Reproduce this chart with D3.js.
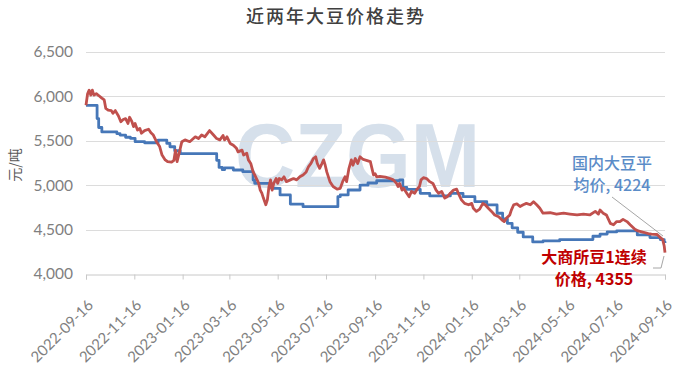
<!DOCTYPE html>
<html><head><meta charset="utf-8">
<script src="https://cdn.jsdelivr.net/npm/d3@7"></script>
<style>html,body{margin:0;padding:0;background:#fff;} svg{display:block}</style>
</head><body><svg id="chart" width="678" height="375"></svg>
<script>
// ---- data ----
const chartTitle = "近两年大豆价格走势";
const yAxisTitle = "元/吨";
const startDate = "2022-09-16";
const endDate = "2024-09-16";
const xTickLabels = ["2022-09-16","2022-11-16","2023-01-16","2023-03-16","2023-05-16","2023-07-16",
  "2023-09-16","2023-11-16","2024-01-16","2024-03-16","2024-05-16","2024-07-16","2024-09-16"];
const yTickValues = [4000, 4500, 5000, 5500, 6000, 6500];
// [days since startDate, price]
const domesticAvg = [[0,5900],[14,5750],[16,5650],[20,5600],[39,5580],[43,5565],[50,5540],[56,5528],[62,5490],[74,5478],
  [91,5508],[102,5470],[106,5433],[112,5388],[119,5355],[165,5280],[168,5200],[172,5175],[175,5195],[186,5171],
  [198,5152],[211,5058],[213,5021],[234,4965],[245,4890],[258,4788],[274,4758],[318,4871],[321,4890],[331,4946],
  [346,5000],[356,5025],[367,5050],[396,5060],[400,4976],[405,4954],[422,4909],[434,4879],[460,4909],[476,4871],
  [491,4815],[506,4778],[519,4684],[526,4620],[532,4571],[538,4520],[545,4470],[552,4418],[564,4361],[577,4373],
  [598,4388],[640,4425],[649,4450],[658,4474],[670,4485],[696,4440],[712,4410],[725,4388],[730,4360],[731,4350]];
const dceSoy1 = [[0,5900],[2,6030],[4,6070],[6,6015],[8,6070],[10,6015],[13,6030],[16,6010],[20,5980],[23,5960],
  [25,5865],[28,5845],[32,5840],[34,5810],[37,5840],[41,5780],[44,5715],[47,5740],[50,5750],[53,5695],
  [55,5765],[58,5715],[60,5660],[62,5695],[65,5620],[68,5640],[70,5585],[74,5615],[79,5630],[82,5590],
  [85,5565],[89,5490],[93,5435],[96,5340],[100,5285],[103,5265],[108,5260],[111,5280],[113,5395],[115,5265],
  [118,5375],[121,5490],[125,5510],[131,5490],[138,5545],[142,5525],[146,5565],[150,5545],[156,5615],[161,5565],
  [165,5525],[169,5510],[173,5560],[175,5510],[178,5545],[182,5470],[186,5450],[190,5415],[192,5375],[197,5395],
  [199,5340],[203,5360],[205,5285],[208,5245],[211,5150],[213,5115],[216,5060],[218,5020],[220,4945],[222,4910],
  [224,4855],[227,4780],[229,4835],[231,4985],[233,5060],[235,4945],[237,5020],[240,5075],[242,5020],[244,5075],
  [247,5060],[250,5095],[253,5040],[258,5060],[262,5075],[266,5060],[270,5095],[274,5115],[278,5150],[281,5210],
  [284,5245],[287,5300],[290,5320],[292,5245],[295,5190],[298,5245],[300,5285],[302,5225],[304,5150],[308,5040],
  [312,4985],[317,4955],[321,4965],[324,5040],[327,5095],[329,5040],[332,5190],[335,5285],[337,5225],[340,5300],
  [343,5245],[346,5320],[350,5290],[354,5280],[359,5265],[361,5190],[363,5115],[365,5130],[367,5095],[371,5100],
  [378,5090],[384,5075],[388,5060],[392,5020],[394,4985],[396,5020],[399,4945],[401,4965],[405,4910],[408,4870],
  [411,4930],[415,4910],[418,4955],[421,4985],[423,5060],[426,5085],[430,5075],[434,5040],[438,5020],[442,4945],
  [445,4910],[449,4930],[453,4855],[456,4870],[460,4910],[464,4945],[468,4955],[471,4890],[474,4835],[478,4795],
  [483,4780],[487,4795],[489,4740],[493,4705],[497,4730],[501,4795],[504,4780],[508,4740],[512,4705],[516,4665],
  [521,4645],[525,4610],[528,4590],[531,4630],[535,4665],[537,4720],[540,4780],[544,4790],[548,4760],[552,4780],
  [556,4795],[561,4780],[565,4815],[569,4780],[573,4740],[577,4685],[586,4690],[594,4675],[603,4685],[611,4675],
  [620,4665],[628,4675],[636,4665],[643,4705],[647,4675],[649,4720],[653,4685],[657,4665],[662,4570],[666,4555],
  [670,4590],[674,4590],[678,4615],[683,4590],[687,4555],[693,4505],[697,4485],[704,4470],[710,4455],[714,4450],
  [721,4445],[725,4410],[728,4390],[730,4315],[731,4240]];
const domesticLabel = ["国内大豆平", "均价, 4224"];
const dceLabel = ["大商所豆1连续", "价格, 4355"];
const watermarkText = "CZGM";

// ---- drawing ----
const svg = d3.select("#chart");
const parse = d3.timeParse("%Y-%m-%d");
const t0 = parse(startDate);
const x = d3.scaleTime().domain([t0, parse(endDate)]).range([86, 665]);
const y = d3.scaleLinear().domain([4000, 6500]).range([274, 52]);
const toDate = d => d3.timeDay.offset(t0, d);

const latin = "Lato, 'Liberation Sans', Arial, sans-serif";
const cjk = "'Noto Sans CJK SC', 'Noto Sans', sans-serif";

// watermark
svg.append("text").attr("x", 235).attr("y", 187)
  .attr("font-family", "'Liberation Sans', Arial, sans-serif").attr("font-weight", "bold")
  .attr("font-size", 91).attr("textLength", 245).attr("lengthAdjust", "spacingAndGlyphs")
  .attr("fill", "#d6e0eb").text(watermarkText);

// grid
svg.append("g").selectAll("line").data(yTickValues.filter(v => v > 4000)).join("line")
  .attr("x1", 86).attr("x2", 665).attr("y1", d => Math.round(y(d)) + 0.5).attr("y2", d => Math.round(y(d)) + 0.5)
  .attr("stroke", "#dcdcdc").attr("stroke-width", 1);

// y axis labels
const yAxis = svg.append("g").attr("transform", "translate(86,0)")
  .call(d3.axisLeft(y).tickValues(yTickValues).tickSize(0).tickPadding(13).tickFormat(d3.format(",")));
yAxis.select(".domain").remove();
yAxis.selectAll("text").attr("font-family", latin).attr("font-size", 15.5).attr("fill", "#7f7f7f");

// x axis
const xAxis = svg.append("g").attr("transform", "translate(0,274.5)")
  .call(d3.axisBottom(x).tickValues(xTickLabels.map(parse)).tickSize(5).tickFormat(d3.timeFormat("%Y-%m-%d")));
xAxis.select(".domain").attr("stroke", "#c8c8c8");
xAxis.selectAll(".tick line").attr("stroke", "#c8c8c8");
xAxis.selectAll("text").attr("font-family", latin).attr("font-size", 15).attr("fill", "#808080")
  .attr("text-anchor", "end").attr("x", 0).attr("y", 0).attr("dy", "0.35em")
  .attr("transform", "translate(4,28) rotate(-45)");

// lines
svg.append("path").datum(domesticAvg).attr("fill", "none").attr("stroke", "#4677b8")
  .attr("stroke-width", 2.8).attr("stroke-linejoin", "round")
  .attr("d", d3.line().curve(d3.curveStepAfter).x(d => x(toDate(d[0]))).y(d => y(d[1])));
svg.append("path").datum(dceSoy1).attr("fill", "none").attr("stroke", "#c0504d")
  .attr("stroke-width", 2.8).attr("stroke-linejoin", "round")
  .attr("d", d3.line().x(d => x(toDate(d[0]))).y(d => y(d[1])));

// leader lines
svg.append("line").attr("x1", 612).attr("y1", 197).attr("x2", 663).attr("y2", 236)
  .attr("stroke", "#a6a6a6").attr("stroke-width", 1);
svg.append("path").attr("d", "M653,268 L661,268 L664,256").attr("fill", "none")
  .attr("stroke", "#a6a6a6").attr("stroke-width", 1);

// series labels
svg.append("g").selectAll("text").data(domesticLabel).join("text")
  .attr("x", 612).attr("y", (d, i) => 163 + i * 22).attr("dy", "0.35em").attr("text-anchor", "middle")
  .attr("font-family", cjk).attr("font-size", 16).attr("font-weight", 500).attr("fill", "#5b8cc8").text(d => d);
svg.append("g").selectAll("text").data(dceLabel).join("text")
  .attr("x", 594).attr("y", (d, i) => 257 + i * 22).attr("dy", "0.35em").attr("text-anchor", "middle")
  .attr("font-family", cjk).attr("font-size", 16).attr("font-weight", "bold").attr("fill", "#c00000").text(d => d);

// title
svg.append("text").attr("x", 336).attr("y", 17).attr("dy", "0.35em").attr("text-anchor", "middle")
  .attr("font-family", cjk).attr("font-size", 18).attr("font-weight", 500).attr("letter-spacing", 2)
  .attr("fill", "#404040").text(chartTitle);

// y axis title
svg.append("text").attr("transform", "translate(15,165) rotate(-90)").attr("dy", "0.35em")
  .attr("text-anchor", "middle").attr("font-family", cjk).attr("font-size", 14)
  .attr("fill", "#595959").text(yAxisTitle);
</script></body></html>
